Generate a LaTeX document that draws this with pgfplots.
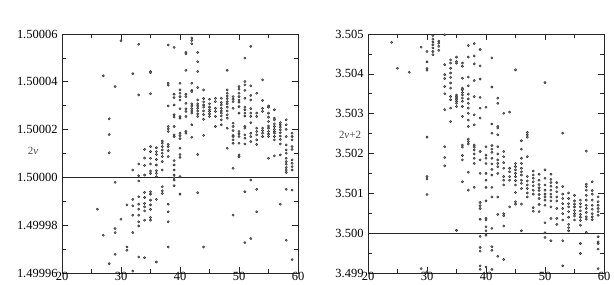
\documentclass[border=0pt]{standalone}
\usepackage{fontspec}
\setmainfont{Liberation Serif}
\usepackage{pgfplots}
\pgfplotsset{compat=1.18}
\usepackage{pgfplotstable}
% left panel: d = (2nu - 1.5) * 1e6 ; right panel: d = (2nu+2 - 3.5) * 1e3
\pgfplotstableread{
x d
26 -13.3
27 42.5
27 -24.2
28 24.5
28 17.9
28 10.3
28 -36.1
29 38
29 -2.1
29 -21.4
29 -23.1
29 -32.2
30 57.2
30 -17.5
31 -11.5
31 -29.1
31 -30.5
32 43.4
32 3.1
32 -9.2
32 -11.9
32 -15.8
32 -23.1
32 -39.2
33 55.7
33 34.5
33 5.6
33 0.7
33 -1.5
33 -8.1
33 -11.2
33 -13.3
33 -15.8
33 -18.6
33 -20.3
33 -33.3
34 11.7
34 8.1
34 5.0
34 1.0
34 -6.3
34 -8.4
34 -10.9
34 -12.3
34 -14
34 -17.9
34 -33.6
35 44.3
35 43.8
35 35
35 12.9
35 10.8
35 8.0
35 5.6
35 2.7
35 1.7
35 -6
35 -7
35 -9.5
35 -11.5
35 -13.4
35 -16.8
35 -17.9
36 12.4
36 10.8
36 9.6
36 7.5
36 5.2
36 2.8
36 1.7
36 0.3
36 -9.2
36 -35.4
37 15.2
37 14.3
37 12.9
37 11.5
37 10.1
37 8.7
37 6.6
37 3.1
37 -3.9
37 -5.6
37 -6.7
38 55.4
38 39.4
38 38.6
38 29.9
38 21.3
38 20.3
38 19.2
38 13.8
38 12.9
38 11.2
38 8.7
38 -11.2
38 -14.4
38 -18.6
38 -29.1
39 54.4
39 34.8
39 33.4
39 30.3
39 26.2
39 25.2
39 21.3
39 17.8
39 17.1
39 7.0
39 5.2
39 3.1
39 1.0
39 -0.1
39 -1.1
39 -3.5
40 39.4
40 36.6
40 35.2
40 33.8
40 32.4
40 28.7
40 25.5
40 24.8
40 18.5
40 17.5
40 16.2
40 12.2
40 9.6
40 8.4
40 0.3
40 -7
41 52.3
41 51.7
41 44.8
41 34.8
41 33.8
41 31.0
41 28.7
41 27.6
41 25.5
41 19.2
41 18.5
42 58.3
42 57.3
42 55.9
42 39.4
42 36.4
42 35.9
42 30.8
42 29.9
42 28.8
42 27.8
42 26.9
42 22.0
42 16.8
43 52.3
43 48.4
43 44.3
43 37.6
43 32.4
43 30.8
43 29.9
43 28.9
43 27.8
43 26.6
43 25.5
43 9.6
43 -6.4
44 36.6
44 33
44 31.6
44 30.3
44 29.4
44 27.8
44 26.3
44 24.3
44 17.6
44 -29.1
45 32.7
45 30.8
45 29.4
45 28.3
45 27.6
45 26.6
45 25.5
46 33.1
46 31.7
46 28.9
46 27.6
46 25.5
46 21.3
47 33.1
47 31.3
47 30.3
47 28.9
47 27.8
47 26.9
47 25.7
47 24.1
47 22.0
48 44.8
48 36.6
48 35.2
48 34.1
48 33.0
48 31.7
48 30.8
48 29.4
48 27.8
48 26.2
48 24.8
48 20.6
48 12.2
49 33.8
49 32.7
49 31.7
49 28.9
49 22.7
49 21.3
49 19.6
49 17.6
49 17.1
49 15.7
49 14.3
49 3.8
49 -15.8
50 38.0
50 36.9
50 35.2
50 33.8
50 32.4
50 31.5
50 29.6
50 26.9
50 19.2
50 18.2
50 17.1
50 14.3
50 9.4
50 8.7
51 49.9
51 40.1
51 38.7
51 36.4
51 33.1
51 29.4
51 28.3
51 26.9
51 25.7
51 21.3
51 20.6
51 17.8
51 16.4
51 14.0
51 -6.0
51 -27.3
52 54.8
52 38.3
52 34.3
52 32.4
52 28.8
52 26.9
52 25.5
52 22.9
52 18.5
52 17.1
52 15.0
52 -1.1
52 -25.6
53 35.2
53 26.9
53 25.5
53 20.6
53 19.2
53 17.8
53 15.7
53 13.8
53 -5.0
53 -14.4
54 40.8
54 32.2
54 28.9
54 27.6
54 20.6
54 19.6
54 18.5
54 17.1
55 29.9
55 29.4
55 26.9
55 25.2
55 23.4
55 21.5
55 20.6
55 19.2
55 18.1
55 17.1
55 8.0
56 28.3
56 24.8
56 24.1
56 22.4
56 21.3
56 20.1
56 19.2
56 18.5
56 17.1
56 15.7
56 9.0
57 22.9
57 22.0
57 21.0
57 19.9
57 18.7
57 17.3
57 15.9
57 14.0
57 9.4
57 -11.2
58 24.1
58 22.0
58 20.1
58 17.1
58 13.6
58 11.5
58 10.1
58 8.0
58 6.6
58 5.5
58 4.1
58 3.1
58 2.1
58 -5.0
58 -26.3
59 18.5
59 17.1
59 15.7
59 12.9
59 11.7
59 7.3
59 5.9
59 4.5
59 3.1
59 -5.3
59 -34.4
}\leftdata
\pgfplotstableread{
x d
24 4.79
25 4.14
27 4.04
29 4.67
29 -0.89
30 4.56
30 4.30
30 4.13
30 4.09
30 2.41
30 1.42
30 1.36
30 0.97
30 -0.97
31 4.96
31 4.87
31 4.80
31 4.73
31 4.65
31 4.56
31 4.48
32 4.82
32 4.77
32 4.69
32 4.59
33 4.98
33 4.23
33 3.98
33 3.88
33 3.68
33 3.50
33 3.10
33 2.17
33 1.90
33 1.69
34 4.35
34 4.27
34 4.14
34 4.02
34 3.91
34 3.77
34 3.64
34 3.43
34 3.35
34 3.14
34 2.80
35 4.42
35 4.31
35 4.27
35 3.47
35 3.43
35 3.39
35 3.35
35 3.31
35 3.26
35 3.18
35 0.07
36 4.27
36 4.19
36 3.89
36 3.64
36 3.60
36 3.53
36 3.47
36 3.39
36 3.31
36 3.18
36 2.93
36 2.21
36 2.16
36 1.95
36 1.84
36 1.29
37 4.71
37 4.42
37 3.92
37 3.70
37 3.49
37 3.37
37 3.26
37 3.14
37 3.01
37 2.84
37 2.68
37 2.36
37 2.30
37 2.24
37 1.53
37 1.08
38 4.76
38 4.45
38 4.25
38 3.83
38 3.43
38 2.97
38 2.72
38 2.21
38 2.16
38 2.09
38 1.99
38 1.88
38 1.75
38 1.15
39 4.61
39 4.20
39 3.87
39 3.41
39 3.14
39 2.89
39 2.05
39 1.84
39 1.50
39 0.77
39 0.69
39 0.62
39 0.35
39 -0.08
39 -0.36
39 -0.45
39 -0.82
39 -0.91
40 3.16
40 2.17
40 1.96
40 1.88
40 1.75
40 1.50
40 1.33
40 1.15
40 0.81
40 0.37
40 0.33
40 0.16
40 0.06
40 -0.05
40 -0.85
41 4.40
41 3.67
41 2.74
41 2.51
41 2.20
41 2.11
41 2.03
41 1.88
41 1.74
41 1.60
41 1.46
41 1.15
41 0.91
41 0.12
41 -0.34
41 -0.43
41 -0.91
42 3.39
42 3.26
42 2.68
42 2.64
42 2.47
42 2.17
42 1.99
42 1.84
42 1.75
42 1.67
42 1.50
42 0.91
42 0.47
42 -0.58
43 3.01
43 2.05
43 1.92
43 1.77
43 1.63
43 1.42
43 1.33
43 1.21
43 0.49
43 0.44
43 0.18
43 -0.66
44 3.04
44 1.63
44 1.54
44 1.42
44 1.33
44 0.66
45 4.10
45 1.75
45 1.67
45 1.59
45 1.50
45 1.42
45 1.32
45 1.21
45 1.02
45 0.79
45 0.73
46 2.32
46 2.11
46 1.88
46 1.75
46 1.63
46 1.54
46 1.46
46 1.33
46 1.25
46 1.12
46 0.73
46 0.06
47 2.53
47 2.47
47 2.41
47 1.92
47 1.42
47 1.31
47 1.21
47 1.12
47 1.01
47 0.91
48 1.56
48 1.46
48 1.38
48 1.29
48 1.19
48 1.08
48 0.98
48 0.64
48 0.55
49 1.48
49 1.33
49 1.22
49 1.14
49 1.07
49 0.97
49 0.87
49 0.72
49 0.54
50 3.78
50 1.59
50 1.38
50 1.21
50 1.08
50 0.98
50 0.91
50 0.83
50 0.70
50 0.26
50 0.01
50 -0.11
51 1.48
51 1.35
51 1.27
51 1.18
51 1.08
51 0.98
51 0.91
51 0.81
51 0.66
51 0.37
51 -0.19
52 1.27
52 1.15
52 1.04
52 0.91
52 0.81
52 0.62
52 0.37
52 0.22
53 2.51
53 1.17
53 0.98
53 0.87
53 0.74
53 0.62
53 0.49
53 0.33
53 -0.19
53 -0.82
54 1.01
54 0.87
54 0.74
54 0.66
54 0.54
54 0.40
54 0.22
54 0.14
54 0.06
55 0.95
55 0.81
55 0.73
55 0.66
55 0.57
55 0.49
55 0.43
55 0.33
56 0.83
56 0.74
56 0.66
56 0.56
56 0.47
56 0.40
56 0.32
56 0.20
56 -0.26
56 -0.51
57 2.06
57 1.23
57 1.17
57 1.08
57 0.95
57 0.83
57 0.70
57 0.62
57 0.52
57 0.41
57 0.35
57 0.02
58 1.29
58 1.07
58 0.98
58 0.83
58 0.70
58 0.60
58 0.49
58 0.41
58 0.34
59 0.91
59 0.79
59 0.70
59 0.62
59 0.54
59 0.45
59 -0.09
59 -0.22
59 -0.26
59 -0.40
59 -0.89
}\rightdata
\pgfplotsset{
  panel/.style={
    scale only axis, width=236bp, height=239bp,
    anchor=south west, clip=false,
    xmin=20, xmax=60, xtick={20,30,...,60}, minor x tick num=1,
    minor y tick num=1,
    tick align=inside, major tick length=6bp, minor tick length=4bp,
    axis line style={black!85, line width=0.8bp},
    every tick/.style={black!85, line width=0.6bp},
    ticklabel style={font=\fontsize{12.5}{14}\selectfont},
    xticklabel style={yshift=4bp},
    yticklabel style={xshift=-1bp},
    /pgf/number format/assume math mode=true,
  },
  pts/.style={only marks, mark=*, mark size=1.15bp,
    mark options={fill=black!45, draw=black!85, line width=0.4bp}},
}
\begin{document}
\begin{tikzpicture}
\path[use as bounding box] (0,0) rectangle (614bp,285bp);
\begin{axis}[panel, at={(62bp,12bp)},
  ymin=-40, ymax=60, ytick={-40,-20,0,20,40,60},
  yticklabels={1.49996,1.49998,1.50000,1.50002,1.50004,1.50006}]
\addplot[black!85, line width=0.8bp, mark=none] coordinates {(20,0) (60,0)};
\addplot[pts] table[x=x, y=d] {\leftdata};
\node[font=\fontsize{11}{13}\selectfont, text=black!70] at ([xshift=-29bp]axis cs:20,11) {2\textit{ν}};
\end{axis}
\begin{axis}[panel, at={(368bp,12bp)},
  ymin=-1, ymax=5, ytick={-1,0,...,5},
  yticklabels={3.499,3.500,3.501,3.502,3.503,3.504,3.505}]
\addplot[black!85, line width=0.8bp, mark=none] coordinates {(20,0) (60,0)};
\addplot[pts] table[x=x, y=d] {\rightdata};
\node[font=\fontsize{11}{13}\selectfont, text=black!70] at ([xshift=-18bp]axis cs:20,2.46) {2\textit{ν}+2};
\end{axis}
\end{tikzpicture}
\end{document}
